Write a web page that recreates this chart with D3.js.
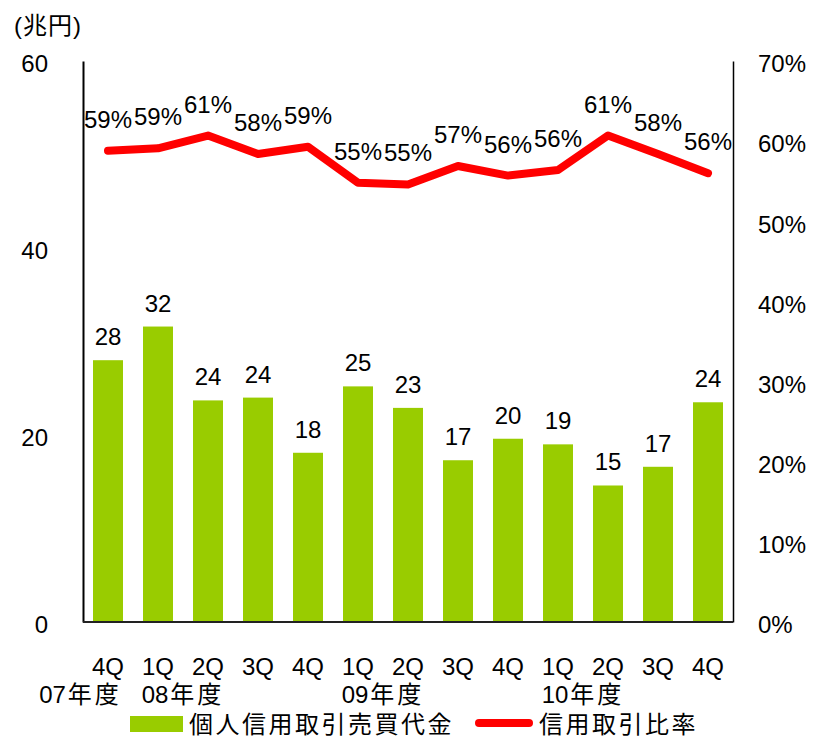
<!DOCTYPE html>
<html>
<head>
<meta charset="utf-8">
<script src="https://cdn.jsdelivr.net/npm/d3@7"></script>
<style>
  body { margin: 0; background: #fff; }
  text { font-family: "Liberation Sans", Arial, "Noto Sans CJK JP", sans-serif; fill: #000; }
  .cjk { font-family: "Liberation Sans", "Noto Sans CJK JP", sans-serif; }
</style>
</head>
<body>
<div id="chart"></div>
<script>
const quarters = ['4Q', '1Q', '2Q', '3Q', '4Q', '1Q', '2Q', '3Q', '4Q', '1Q', '2Q', '3Q', '4Q'];
const tradingValue = [28.0, 31.6, 23.7, 24.0, 18.1, 25.2, 22.9, 17.3, 19.6, 19.0, 14.6, 16.6, 23.5];
const marginRatio = [58.8, 59.1, 60.7, 58.4, 59.3, 54.8, 54.6, 56.9, 55.7, 56.4, 60.7, 58.4, 56.0];
const fiscalYears = ['07', '08', '09', '10'];
const fiscalYearPos = [-0.55, 1.5, 5.5, 9.5];
const leftTicks = [0, 20, 40, 60];
const rightTicks = [0, 10, 20, 30, 40, 50, 60, 70];

const width = 813;
const height = 738;
const margin = { top: 61, right: 80, bottom: 116, left: 83 };
const fs = 24;

const svg = d3.select('#chart')
  .append('svg')
  .attr('width', width)
  .attr('height', height);

const x = d3.scaleBand()
  .domain(d3.range(quarters.length))
  .range([margin.left, width - margin.right])
  .paddingInner(0.4)
  .paddingOuter(0.2);

const y = d3.scaleLinear()
  .domain([0, 60])
  .range([height - margin.bottom, margin.top]);

const y2 = d3.scaleLinear()
  .domain([0, 70])
  .range([height - margin.bottom, margin.top]);

const cx = i => x(i) + x.bandwidth() / 2;

// bars
svg.append('g')
  .selectAll('rect')
  .data(tradingValue)
  .join('rect')
  .attr('x', (d, i) => x(i))
  .attr('y', d => y(d))
  .attr('width', x.bandwidth())
  .attr('height', d => y(0) - y(d))
  .attr('fill', '#99cc00');

svg.append('g')
  .selectAll('text')
  .data(tradingValue)
  .join('text')
  .attr('x', (d, i) => cx(i))
  .attr('y', d => y(d) - 15)
  .attr('text-anchor', 'middle')
  .style('font-size', fs + 'px')
  .text(d => Math.round(d));

// axes
const yAxis = svg.append('g')
  .attr('transform', `translate(${margin.left},0)`)
  .call(d3.axisLeft(y).tickValues(leftTicks).tickSize(0).tickPadding(35));
yAxis.select('.domain').attr('stroke', '#000').attr('stroke-width', 2);
yAxis.selectAll('text').style('font-size', fs + 'px').attr('dy', '0.45em');

const y2Axis = svg.append('g')
  .attr('transform', `translate(${width - margin.right},0)`)
  .call(d3.axisRight(y2).tickValues(rightTicks).tickSize(0).tickPadding(25).tickFormat(d => d + '%'));
y2Axis.select('.domain').attr('stroke', '#000').attr('stroke-width', 1.5);
y2Axis.selectAll('text').style('font-size', fs + 'px').attr('dy', '0.45em');

svg.append('line')
  .attr('x1', margin.left)
  .attr('x2', width - margin.right)
  .attr('y1', y(0))
  .attr('y2', y(0))
  .attr('stroke', '#222')
  .attr('stroke-width', 2);

// ratio line
const line = d3.line()
  .x((d, i) => cx(i))
  .y(d => y2(d));

svg.append('path')
  .datum(marginRatio)
  .attr('d', line)
  .attr('fill', 'none')
  .attr('stroke', '#ff0000')
  .attr('stroke-width', 8)
  .attr('stroke-linejoin', 'round')
  .attr('stroke-linecap', 'round');

svg.append('g')
  .selectAll('text')
  .data(marginRatio)
  .join('text')
  .attr('x', (d, i) => cx(i))
  .attr('y', d => y2(d) - 23)
  .attr('text-anchor', 'middle')
  .style('font-size', fs + 'px')
  .text(d => Math.round(d) + '%');

// category labels
svg.append('g')
  .selectAll('text')
  .data(quarters)
  .join('text')
  .attr('x', (d, i) => cx(i))
  .attr('y', 675)
  .attr('text-anchor', 'middle')
  .style('font-size', fs + 'px')
  .text(d => d);

const yearText = svg.append('g')
  .selectAll('text')
  .data(fiscalYears)
  .join('text')
  .attr('class', 'cjk')
  .attr('x', (d, i) => x(0) + x.bandwidth() / 2 + fiscalYearPos[i] * x.step())
  .attr('y', 703)
  .attr('text-anchor', 'middle')
  .style('font-size', fs + 'px');
yearText.append('tspan').text(d => d);
yearText.append('tspan').attr('dx', 2).style('letter-spacing', '3px').text('年度');

// unit label
svg.append('text')
  .attr('class', 'cjk')
  .attr('x', 14)
  .attr('y', 34)
  .style('font-size', fs + 'px')
  .style('letter-spacing', '1px')
  .text('(兆円)');

// legend
const legend = svg.append('g');
legend.append('rect')
  .attr('x', 130).attr('y', 716)
  .attr('width', 53).attr('height', 16)
  .attr('fill', '#99cc00');
legend.append('text')
  .attr('class', 'cjk')
  .attr('x', 189).attr('y', 733)
  .style('font-size', fs + 'px')
  .style('letter-spacing', '2.5px')
  .text('個人信用取引売買代金');
legend.append('line')
  .attr('x1', 479).attr('x2', 529)
  .attr('y1', 723).attr('y2', 723)
  .attr('stroke', '#ff0000')
  .attr('stroke-width', 8)
  .attr('stroke-linecap', 'round');
legend.append('text')
  .attr('class', 'cjk')
  .attr('x', 539).attr('y', 733)
  .style('font-size', fs + 'px')
  .style('letter-spacing', '2.5px')
  .text('信用取引比率');
</script>
</body>
</html>
